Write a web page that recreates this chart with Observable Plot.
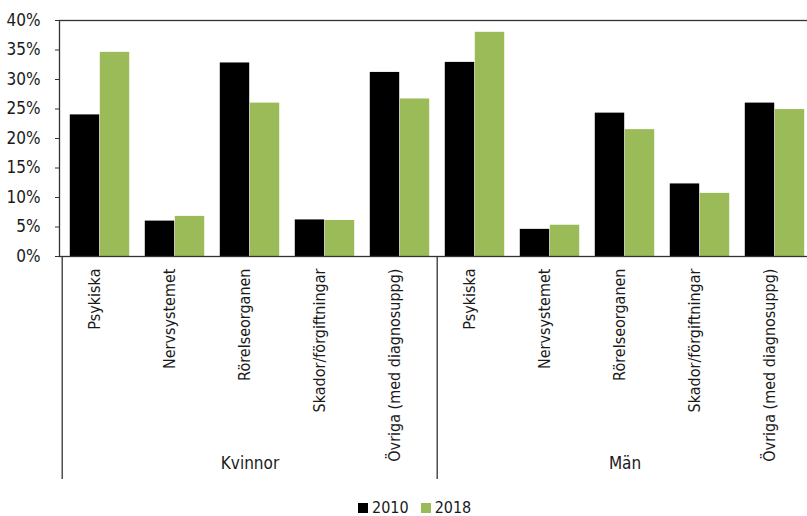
<!DOCTYPE html>
<html><head><meta charset="utf-8">
<script src="https://cdn.jsdelivr.net/npm/d3@7"></script>
<script src="https://cdn.jsdelivr.net/npm/@observablehq/plot@0.6"></script>
<style>
html,body{margin:0;padding:0;background:#fff;overflow:hidden;}
#wrap{width:807px;height:516px;overflow:hidden;position:relative;font-family:"Liberation Sans Narrow","DejaVu Sans Condensed","Roboto Condensed",Roboto,sans-serif;color:#1a1a1a;}
#chart svg{max-width:none !important;}
#legend{position:absolute;top:500px;left:358px;display:flex;align-items:center;font-size:16px;line-height:16px;}
#legend .item{display:flex;align-items:center;margin-right:12px;}
#legend .sw{width:10px;height:10px;margin-right:4px;}
</style></head><body><div id="wrap"><div id="chart"></div><div id="legend"></div></div>
<script>
const FONT = '"Liberation Sans Narrow","DejaVu Sans Condensed","Roboto Condensed",Roboto,sans-serif';
const groups = ["Kvinnor", "Män"];
const categories = ["Psykiska", "Nervsystemet", "Rörelseorganen", "Skador/förgiftningar", "Övriga (med diagnosuppg)"];
const series = ["2010", "2018"];
const v2010 = [24.0, 6.0, 32.8, 6.2, 31.2, 32.9, 4.6, 24.3, 12.3, 26.0];
const v2018 = [34.6, 6.8, 26.0, 6.1, 26.7, 38.0, 5.3, 21.5, 10.7, 24.9];
const colors = ["#000000", "#9BBB59"];
const yTicks = [0, 5, 10, 15, 20, 25, 30, 35, 40];

const keys = groups.flatMap(g => categories.map(c => g + "|" + c));
const rows = keys.map((k, i) => ({key: k, group: k.split("|")[0], cat: k.split("|")[1], a: v2010[i], b: v2018[i]}));

const W = 815, H = 490, mL = 59, mT = 20, plotBottom = 256, mB = H - plotBottom;
const slot = (W - mL) / keys.length;
const edge = slot * 0.103;

const chart = Plot.plot({
  width: W, height: H, marginLeft: mL, marginTop: mT, marginRight: 0, marginBottom: mB,
  style: {fontFamily: FONT, fontSize: "16px", color: "#1a1a1a", background: "white", overflow: "visible"},
  x: {domain: keys, padding: 0, axis: null},
  y: {domain: [0, 40], axis: null},
  marks: [
    Plot.barY(rows, {x: "key", y: "a", fill: colors[0], insetLeft: edge, insetRight: slot / 2}),
    Plot.barY(rows, {x: "key", y: "b", fill: colors[1], insetLeft: slot / 2, insetRight: edge}),
    Plot.axisY({ticks: yTicks, tickFormat: d => d + "%", tickSize: 4, tickPadding: 15, fontSize: 17, stroke: "#333"}),
    Plot.frame({stroke: "#333", strokeWidth: 1.3}),
    Plot.ruleX(groups, {x: g => g + "|" + categories[0], dx: -slot / 2, insetTop: plotBottom - mT, insetBottom: -223, stroke: "#333", strokeWidth: 1.3}),
    Plot.text(rows, {x: "key", text: "cat", frameAnchor: "bottom", rotate: -90, textAnchor: "end", dy: 12, fontSize: 16, fill: "#1a1a1a"}),
    Plot.text(groups, {x: g => g + "|" + categories[2], text: d => d, frameAnchor: "bottom", dy: 212, fontSize: 17, fill: "#1a1a1a"})
  ]
});
chart.style.maxWidth = "none";
chart.style.width = W + "px";
chart.style.height = H + "px";
document.getElementById("chart").appendChild(chart);

const legend = document.getElementById("legend");
series.forEach((s, i) => {
  const it = document.createElement("div");
  it.className = "item";
  const sw = document.createElement("div");
  sw.className = "sw";
  sw.style.background = colors[i];
  const t = document.createElement("span");
  t.textContent = s;
  it.appendChild(sw); it.appendChild(t);
  legend.appendChild(it);
});
</script>
</body></html>
